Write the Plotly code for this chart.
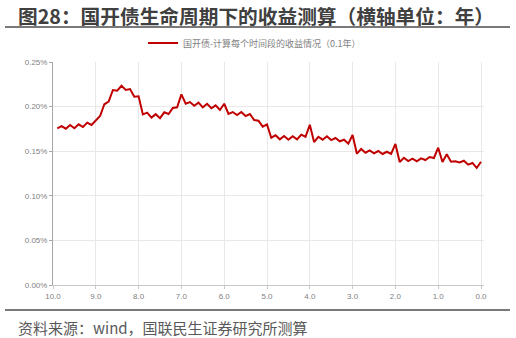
import plotly.graph_objects as go

# ---- data ----
years = [round(9.9 - 0.1 * i, 1) for i in range(100)]
yield_pct = [
    0.1757, 0.1782, 0.1752, 0.1794, 0.1757, 0.1801, 0.1771, 0.1820, 0.1794, 0.1850,
    0.1894, 0.2026, 0.2055, 0.2186, 0.2178, 0.2234, 0.2186, 0.2197, 0.2111, 0.2115,
    0.1913, 0.1932, 0.1877, 0.1915, 0.1870, 0.1936, 0.1917, 0.1984, 0.1992, 0.2138,
    0.2032, 0.2051, 0.2010, 0.2044, 0.1992, 0.2032, 0.1981, 0.2014, 0.1962, 0.2032,
    0.1917, 0.1939, 0.1906, 0.1939, 0.1894, 0.1917, 0.1850, 0.1842, 0.1775, 0.1801,
    0.1651, 0.1678, 0.1633, 0.1670, 0.1629, 0.1667, 0.1633, 0.1685, 0.1662, 0.1797,
    0.1603, 0.1662, 0.1629, 0.1667, 0.1625, 0.1648, 0.1611, 0.1629, 0.1584, 0.1682,
    0.1472, 0.1525, 0.1483, 0.1510, 0.1476, 0.1502, 0.1469, 0.1494, 0.1469, 0.1581,
    0.1379, 0.1427, 0.1390, 0.1416, 0.1387, 0.1420, 0.1401, 0.1435, 0.1424, 0.1539,
    0.1379, 0.1465, 0.1382, 0.1387, 0.1375, 0.1393, 0.1349, 0.1368, 0.1312, 0.1382,
]
x_ticks = [10.0, 9.0, 8.0, 7.0, 6.0, 5.0, 4.0, 3.0, 2.0, 1.0, 0.0]
x_tick_labels = ["10.0", "9.0", "8.0", "7.0", "6.0", "5.0", "4.0", "3.0", "2.0", "1.0", "0.0"]
y_ticks = [0.00, 0.05, 0.10, 0.15, 0.20, 0.25]
y_tick_labels = ["0.00%", "0.05%", "0.10%", "0.15%", "0.20%", "0.25%"]

title_text = "图28：国开债生命周期下的收益测算（横轴单位：年）"
series_name = "国开债-计算每个时间段的收益情况（0.1年）"
source_text = "资料来源：wind，国联民生证券研究所测算"

CJK = "Noto Sans CJK SC"
TICKFONT = dict(family="Liberation Sans, Arial, sans-serif", size=8, color="#7f7f7f")

fig = go.Figure()
fig.add_trace(go.Scatter(
    x=years, y=yield_pct, mode="lines", name=series_name,
    line=dict(color="#c00000", width=2),
))

W, H = 516, 338
L, R, T, B = 53, 32, 62, 53
pw, ph = W - L - R, H - T - B

def px_x(x):
    return (x - L) / pw

def px_y(y):
    return (H - B - y) / ph

fig.update_layout(
    width=W, height=H,
    margin=dict(l=L, r=R, t=T, b=B),
    paper_bgcolor="white", plot_bgcolor="white",
    showlegend=True,
    legend=dict(orientation="h", x=px_x(143), xanchor="left", y=px_y(43), yanchor="middle",
                font=dict(family=CJK, size=9, color="#7f7f7f"),
                bgcolor="rgba(0,0,0,0)", itemwidth=30),
    xaxis=dict(range=[10.0, -0.07], tickmode="array", tickvals=x_ticks, ticktext=x_tick_labels,
               showgrid=True, gridcolor="#e8e8e8", gridwidth=1, zeroline=False,
               showline=True, linecolor="#c8c8c8", linewidth=1,
               ticks="outside", ticklen=3, tickcolor="#c8c8c8",
               tickfont=TICKFONT),
    yaxis=dict(range=[0, 0.25], tickmode="array", tickvals=y_ticks, ticktext=y_tick_labels,
               showgrid=True, gridcolor="#e8e8e8", gridwidth=1, zeroline=False,
               showline=True, linecolor="#a6a6a6", linewidth=1,
               ticks="outside", ticklen=3, tickcolor="#a6a6a6",
               tickfont=TICKFONT),
    shapes=[
        dict(type="line", xref="paper", yref="paper", x0=px_x(5), x1=px_x(510),
             y0=px_y(27), y1=px_y(27), line=dict(color="#4d4d4d", width=1.5)),
        dict(type="line", xref="paper", yref="paper", x0=px_x(5), x1=px_x(510),
             y0=px_y(310), y1=px_y(310), line=dict(color="#4d4d4d", width=1.5)),
    ],
    annotations=[
        dict(text="<b>" + title_text + "</b>", xref="paper", yref="paper",
             x=px_x(16), y=px_y(15), xanchor="left", yanchor="middle", showarrow=False,
             font=dict(family=CJK, size=19.7, color="#404040")),
        dict(text=source_text, xref="paper", yref="paper", x=px_x(16), y=px_y(327),
             xanchor="left", yanchor="middle", showarrow=False,
             font=dict(family=CJK, size=15, color="#595959")),
    ],
)

fig.write_html("out.html")
